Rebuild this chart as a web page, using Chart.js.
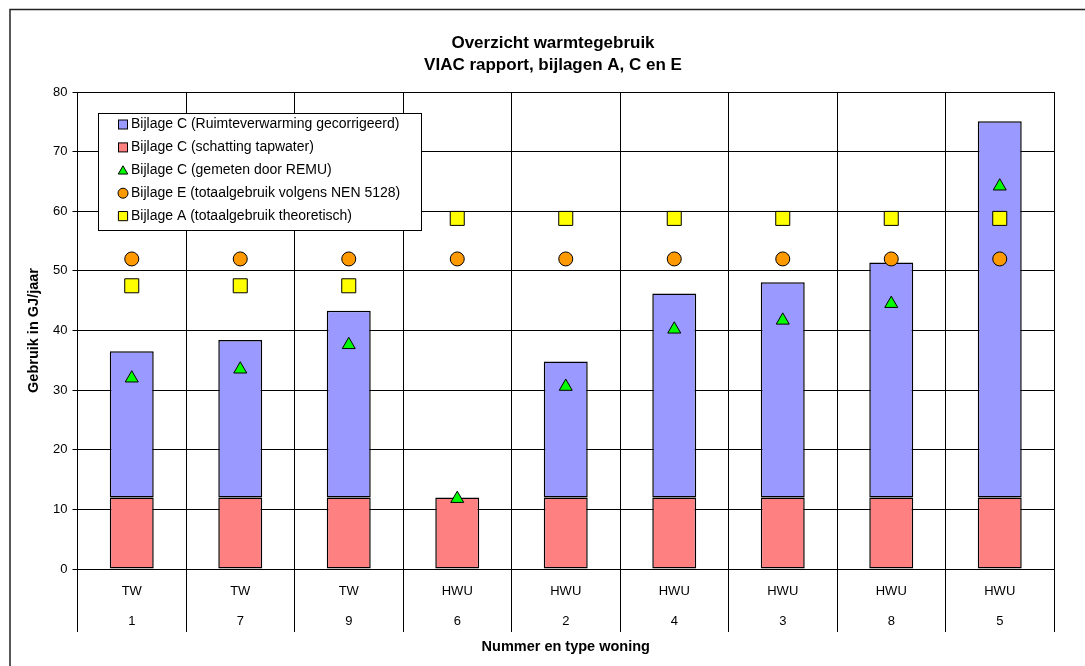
<!DOCTYPE html>
<html>
<head>
<meta charset="utf-8">
<title>Overzicht warmtegebruik</title>
<script src="https://cdn.jsdelivr.net/npm/chart.js@4.4.1/dist/chart.umd.min.js"></script>
<style>
  html, body { margin: 0; padding: 0; background: #fff; }
  #wrap { width: 1085px; height: 666px; position: relative; }
</style>
</head>
<body>
<div id="wrap"><canvas id="warmte"></canvas></div>
<script>
// woningen (x-as, twee regels)
const woningType = ['TW', 'TW', 'TW', 'HWU', 'HWU', 'HWU', 'HWU', 'HWU', 'HWU'];
const woningNr = ['1', '7', '9', '6', '2', '4', '3', '8', '5'];

// GJ/jaar
const tapwater = [12, 12, 12, 12, 12, 12, 12, 12, 12];
const ruimteverwarming = [24.5, 26.4, 31.3, null, 22.8, 34.2, 36.1, 39.4, 63.1];
const gemetenRemu = [32.0, 33.5, 37.6, 11.8, 30.6, 40.2, 41.7, 44.5, 64.2];
const nen5128 = [52, 52, 52, 52, 52, 52, 52, 52, 52];
const theoretisch = [47.5, 47.5, 47.5, 58.8, 58.8, 58.8, 58.8, 58.8, 58.8];

const yTicks = [0, 10, 20, 30, 40, 50, 60, 70, 80];

const FONT = '"Liberation Sans", Arial, sans-serif';

// kader rond de hele grafiek
const kader = {
  id: 'kader',
  beforeDraw(chart) {
    const ctx = chart.ctx;
    ctx.save();
    ctx.strokeStyle = '#222';
    ctx.lineWidth = 1.5;
    ctx.strokeRect(10, 9.5, 1200, 800);
    ctx.restore();
  }
};

// titel in twee regels, iets links van het midden zoals in het origineel
const titel = {
  id: 'titel',
  afterDraw(chart) {
    const ctx = chart.ctx;
    ctx.save();
    ctx.fillStyle = '#000';
    ctx.font = 'bold 17px ' + FONT;
    ctx.textAlign = 'center';
    ctx.textBaseline = 'middle';
    ctx.fillText('Overzicht warmtegebruik', 553, 43.5);
    ctx.fillText('VIAC rapport, bijlagen A, C en E', 553, 65.5);
    ctx.restore();
  }
};

// legenda binnen het plotvlak
const legenda = {
  id: 'legenda',
  afterDatasetsDraw(chart) {
    const ctx = chart.ctx;
    const sets = chart.data.datasets;
    ctx.save();
    ctx.fillStyle = '#fff';
    ctx.strokeStyle = '#000';
    ctx.lineWidth = 1;
    ctx.fillRect(98.5, 113.5, 323, 117);
    ctx.strokeRect(98.5, 113.5, 323, 117);
    [1, 0, 2, 3, 4].forEach((idx, k) => {
      const ds = sets[idx];
      const y = 124.5 + k * 22.9;
      const x = 123;
      ctx.strokeStyle = '#000';
      ctx.lineWidth = 1;
      if (ds.type === 'bar') {
        ctx.fillStyle = ds.backgroundColor;
        ctx.fillRect(118.5, y - 4.5, 9, 9);
        ctx.strokeRect(118.5, y - 4.5, 9, 9);
      } else {
        ctx.fillStyle = ds.pointBackgroundColor;
        const r = ds.pointStyle === 'rect' ? 6.5 : (ds.pointStyle === 'triangle' ? 5.5 : 5);
        Chart.helpers.drawPoint(ctx, { pointStyle: ds.pointStyle, radius: r, borderWidth: 1, rotation: 0 }, x, ds.pointStyle === 'triangle' ? y + 1 : y);
      }
      ctx.fillStyle = '#000';
      ctx.font = '14px ' + FONT;
      ctx.textAlign = 'left';
      ctx.textBaseline = 'middle';
      ctx.fillText(ds.label, 131, y);
    });
    ctx.restore();
  }
};

const labels = woningType.map((t, i) => [t, woningNr[i]]);

const punten = (label, data, style, r, kleur) => ({
  type: 'line',
  label: label,
  data: data,
  showLine: false,
  stack: label,
  pointStyle: style,
  pointRadius: r,
  pointHoverRadius: r,
  pointBackgroundColor: kleur,
  pointBorderColor: '#000',
  pointBorderWidth: 1,
  order: 1
});

const ctxt = document.getElementById('warmte').getContext('2d');

const myChart = new Chart(ctxt, {
  data: {
    labels: labels,
    datasets: [
      {
        type: 'bar',
        label: 'Bijlage C (schatting tapwater)',
        data: tapwater,
        backgroundColor: '#FF8080',
        borderColor: '#000',
        borderWidth: 1.5,
        borderSkipped: false,
        stack: 'staaf',
        barPercentage: 0.405,
        categoryPercentage: 1,
        order: 5
      },
      {
        type: 'bar',
        label: 'Bijlage C (Ruimteverwarming gecorrigeerd)',
        data: ruimteverwarming,
        backgroundColor: '#9999FF',
        borderColor: '#000',
        borderWidth: 1.5,
        borderSkipped: false,
        stack: 'staaf',
        barPercentage: 0.405,
        categoryPercentage: 1,
        order: 5
      },
      punten('Bijlage C (gemeten door REMU)', gemetenRemu, 'triangle', 7.5, '#00FF00'),
      punten('Bijlage E (totaalgebruik volgens NEN 5128)', nen5128, 'circle', 7, '#FF9900'),
      punten('Bijlage A (totaalgebruik theoretisch)', theoretisch, 'rect', 9.9, '#FFFF00')
    ]
  },
  options: {
    responsive: true,
    maintainAspectRatio: false,
    animation: false,
    layout: { padding: { top: 92, left: 12, right: 31, bottom: 0 } },
    plugins: {
      legend: { display: false },
      title: { display: false },
      tooltip: { enabled: false }
    },
    scales: {
      x: {
        stacked: true,
        grid: { color: '#000', lineWidth: 1, tickLength: 63, offset: true },
        border: { color: '#000' },
        ticks: {
          color: '#000',
          font: { family: FONT, size: 13, lineHeight: 30 / 13 },
          padding: -56,
          maxRotation: 0,
          autoSkip: false
        },
        title: {
          display: true,
          text: 'Nummer en type woning',
          color: '#000',
          font: { family: FONT, size: 14.5, weight: 'bold' },
          padding: { top: 0, bottom: 10.3 }
        },
        afterFit: s => { s.height = 97; }
      },
      y: {
        stacked: true,
        min: 0,
        max: 80,
        afterBuildTicks: s => { s.ticks = yTicks.map(v => ({ value: v })); },
        grid: { color: '#000', lineWidth: 1, tickLength: 5 },
        border: { color: '#000' },
        ticks: { color: '#000', font: { family: FONT, size: 13 }, padding: 5 },
        title: {
          display: true,
          text: 'Gebruik in GJ/jaar',
          color: '#000',
          font: { family: FONT, size: 14.5, weight: 'bold' },
          padding: { top: 13.3, bottom: 0 }
        },
        afterFit: s => { s.width = 65.5; }
      }
    }
  },
  plugins: [kader, legenda, titel]
});
</script>
</body>
</html>
